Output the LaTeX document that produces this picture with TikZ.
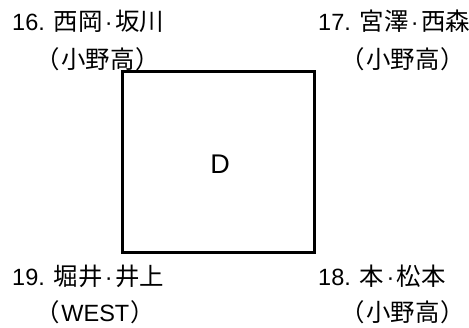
\documentclass[tikz,border=0pt]{standalone}
\usepackage{fontspec}
\setmainfont{Liberation Sans}
\newfontfamily\cjk[Scale=1.04]{Noto Sans CJK JP}
\newfontfamily\cjkp[Scale=1.04,RawFeature=+palt]{Noto Sans CJK JP}
\newcommand{\mdot}{\hspace{2.5bp}·\hspace{2.5bp}}
\newcommand{\lp}{{\cjkp （}\hspace{2bp}}
\newcommand{\rp}{\hspace{2bp}{\cjkp ）}}
\begin{document}
\begin{tikzpicture}[x=1bp,y=-1bp,
  lbl/.style={anchor=base west,inner sep=0pt,font=\fontsize{23.5bp}{28bp}\selectfont},
  court/.style={draw=black,line width=3bp}]
\useasboundingbox (0,0) rectangle (469,327);
\draw[court] (122.5,71) rectangle (314,252.5);
\node (D) at (220,164) {\fontsize{27bp}{30bp}\selectfont D};
\node[lbl] (t16) at (12,30) {16. {\cjk 西岡}\mdot{\cjk 坂川}};
\node[lbl] (s16) at (47,68) {\lp{\cjk 小野高}\rp};
\node[lbl] (t17) at (318,30) {17. {\cjk 宮澤}\mdot{\cjk 西森}};
\node[lbl] (s17) at (352,68) {\lp{\cjk 小野高}\rp};
\node[lbl] (t19) at (12,285) {19. {\cjk 堀井}\mdot{\cjk 井上}};
\node[lbl] (s19) at (47,321) {\lp WEST\rp};
\node[lbl] (t18) at (318,285) {18. {\cjk 本}\mdot{\cjk 松本}};
\node[lbl] (s18) at (352,321) {\lp{\cjk 小野高}\rp};
\end{tikzpicture}
\end{document}
